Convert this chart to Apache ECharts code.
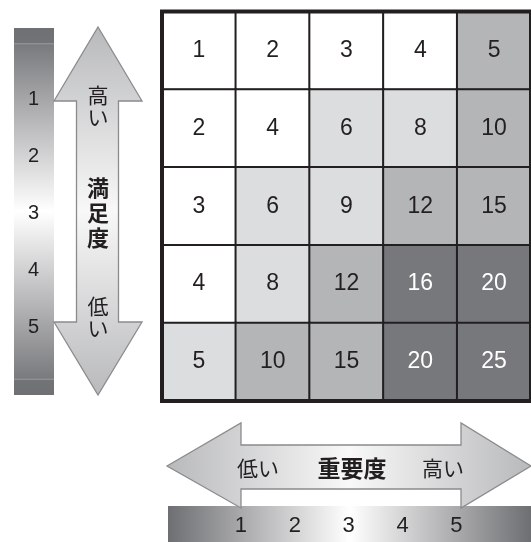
<!DOCTYPE html>
<html>
<head>
<meta charset="utf-8">
<script src="https://cdn.jsdelivr.net/npm/echarts@6/dist/echarts.min.js"></script>
<style>
html,body{margin:0;padding:0;background:#fff;}
#chart{width:531px;height:542px;}
</style>
</head>
<body>
<div id="chart"></div>
<script>
// ---- data ----
const importanceCategories = ['1', '2', '3', '4', '5'];   // columns (重要度)
const satisfactionCategories = ['1', '2', '3', '4', '5']; // rows (満足度)
const cellValues = [
  [1, 2, 3, 4, 5],
  [2, 4, 6, 8, 10],
  [3, 6, 9, 12, 15],
  [4, 8, 12, 16, 20],
  [5, 10, 15, 20, 25]
];
const cellLevels = [
  [0, 0, 0, 0, 2],
  [0, 0, 1, 1, 2],
  [0, 1, 1, 2, 2],
  [0, 1, 2, 3, 3],
  [1, 2, 2, 3, 3]
];
const satisfactionTicks = [1, 2, 3, 4, 5];
const importanceTicks = [1, 2, 3, 4, 5];
const satisfactionHigh = '高い', satisfactionLow = '低い', satisfactionTitle = '満足度';
const importanceLow = '低い', importanceHigh = '高い', importanceTitle = '重要度';

// ---- styles ----
const levelColors = ['#ffffff', '#dcdddf', '#b4b5b7', '#77787c'];
const levelText = ['#231f20', '#231f20', '#231f20', '#ffffff'];
const ink = '#231f20';
const numFont = '"Liberation Sans", Arial, sans-serif';
const jpFont = '"Noto Sans CJK JP", sans-serif';

const heatData = [];
cellValues.forEach((row, r) => {
  row.forEach((v, c) => {
    const lv = cellLevels[r][c];
    heatData.push({
      value: [c, r, v],
      itemStyle: { color: levelColors[lv] },
      label: { color: levelText[lv] }
    });
  });
});

const chart = echarts.init(document.getElementById('chart'), null, { renderer: 'canvas' });

const arrowFillV = new echarts.graphic.LinearGradient(0, 0, 0, 1, [
  { offset: 0, color: '#b8b9bb' }, { offset: 0.5, color: '#f8f8f8' }, { offset: 1, color: '#b8b9bb' }
]);
const arrowFillH = new echarts.graphic.LinearGradient(0, 0, 1, 0, [
  { offset: 0, color: '#b8b9bb' }, { offset: 0.5, color: '#f8f8f8' }, { offset: 1, color: '#b8b9bb' }
]);

const option = {
  backgroundColor: '#ffffff',
  animation: false,
  grid: [
    { // main matrix
      left: 162, top: 11.5, right: -11, bottom: 141,
      show: true, backgroundColor: 'transparent', borderColor: ink, borderWidth: 4, z: 10
    },
    { // left gradient bar
      left: 14, top: 28, width: 40, height: 367,
      show: true, borderWidth: 0, z: 0,
      backgroundColor: new echarts.graphic.LinearGradient(0, 0, 0, 1, [
        { offset: 0, color: '#6f7073' }, { offset: 0.04, color: '#727376' },
        { offset: 0.042, color: '#909194' }, { offset: 0.047, color: '#7a7b7e' },
        { offset: 0.5, color: '#ffffff' },
        { offset: 0.953, color: '#7a7b7e' }, { offset: 0.958, color: '#909194' },
        { offset: 0.96, color: '#727376' }, { offset: 1, color: '#6f7073' }
      ])
    },
    { // bottom gradient bar
      left: 168, top: 506, right: -5, bottom: -6,
      show: true, borderWidth: 0, z: 0,
      backgroundColor: new echarts.graphic.LinearGradient(0, 0, 1, 0, [
        { offset: 0, color: '#6e6f72' }, { offset: 0.5, color: '#ffffff' }, { offset: 1, color: '#6e6f72' }
      ])
    }
  ],
  xAxis: [
    { gridIndex: 0, type: 'category', data: importanceCategories, show: false },
    { gridIndex: 1, type: 'value', show: false, min: 0, max: 1 },
    {
      gridIndex: 2, type: 'value', position: 'top', offset: -19.5,
      min: -0.3553, max: 6.385,
      axisLine: { show: false }, axisTick: { show: false }, splitLine: { show: false },
      axisLabel: {
        customValues: importanceTicks, margin: 0, verticalAlign: 'middle', align: 'center',
        fontFamily: numFont, fontSize: 22, color: ink, showMinLabel: true, showMaxLabel: true
      }
    }
  ],
  yAxis: [
    { gridIndex: 0, type: 'category', data: satisfactionCategories, inverse: true, show: false },
    {
      gridIndex: 1, type: 'value', position: 'left', inverse: true, offset: -19.5,
      min: -0.2566, max: 6.193,
      axisLine: { show: false }, axisTick: { show: false }, splitLine: { show: false },
      axisLabel: {
        customValues: satisfactionTicks, margin: 0, align: 'center', verticalAlign: 'middle',
        fontFamily: numFont, fontSize: 20, color: ink
      }
    },
    { gridIndex: 2, type: 'value', show: false, min: 0, max: 1 }
  ],
  series: [{
    type: 'heatmap',
    xAxisIndex: 0, yAxisIndex: 0,
    data: heatData,
    itemStyle: { borderColor: ink, borderWidth: 2 },
    label: { show: true, fontFamily: numFont, fontSize: 23, formatter: p => p.value[2] },
    emphasis: { disabled: true }
  }],
  graphic: [
    { // vertical arrow (満足度)
      type: 'polygon', z: 20,
      shape: { points: [[98, 27], [142, 101], [118.5, 101], [118.5, 322], [142, 322], [98, 395], [54, 322], [76.5, 322], [76.5, 101], [54, 101]] },
      style: { fill: arrowFillV, stroke: '#8a8b8d', lineWidth: 1.3 }
    },
    { type: 'text', z: 21, style: { text: satisfactionHigh.split('').join('\n'), x: 98, y: 106, align: 'center', verticalAlign: 'middle', font: '21px ' + jpFont, lineHeight: 22, fill: ink } },
    { type: 'text', z: 21, style: { text: satisfactionTitle.split('').join('\n'), x: 98, y: 213, align: 'center', verticalAlign: 'middle', font: 'bold 22px ' + jpFont, lineHeight: 25, fill: ink } },
    { type: 'text', z: 21, style: { text: satisfactionLow.split('').join('\n'), x: 98, y: 317, align: 'center', verticalAlign: 'middle', font: '21px ' + jpFont, lineHeight: 22, fill: ink } },
    { // horizontal arrow (重要度)
      type: 'polygon', z: 20,
      shape: { points: [[167, 466], [241, 423], [241, 445], [461, 445], [461, 423], [531, 466], [461, 508], [461, 489], [241, 489], [241, 508]] },
      style: { fill: arrowFillH, stroke: '#8a8b8d', lineWidth: 1.3 }
    },
    { type: 'text', z: 21, style: { text: importanceLow, x: 258, y: 468, align: 'center', verticalAlign: 'middle', font: '21px ' + jpFont, fill: ink } },
    { type: 'text', z: 21, style: { text: importanceTitle, x: 352, y: 468, align: 'center', verticalAlign: 'middle', font: 'bold 23px ' + jpFont, fill: ink } },
    { type: 'text', z: 21, style: { text: importanceHigh, x: 443, y: 468, align: 'center', verticalAlign: 'middle', font: '21px ' + jpFont, fill: ink } }
  ]
};
chart.setOption(option);
</script>
</body>
</html>
